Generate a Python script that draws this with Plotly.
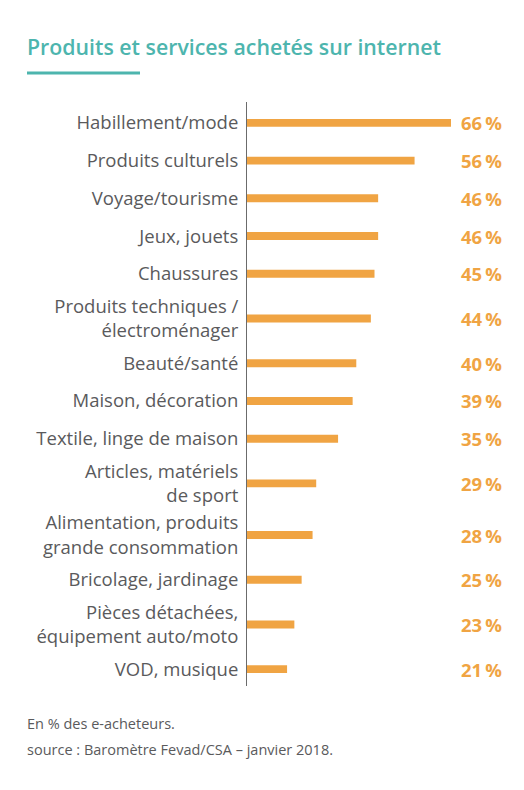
import plotly.graph_objects as go

# data
categories = [
    "Habillement/mode",
    "Produits culturels",
    "Voyage/tourisme",
    "Jeux, jouets",
    "Chaussures",
    "Produits techniques /<br>électroménager",
    "Beauté/santé",
    "Maison, décoration",
    "Textile, linge de maison",
    "Articles, matériels<br>de sport",
    "Alimentation, produits<br>grande consommation",
    "Bricolage, jardinage",
    "Pièces détachées,<br>équipement auto/moto",
    "VOD, musique",
]
values = [66, 56, 46, 46, 45, 44, 40, 39, 35, 29, 28, 25, 23, 21]
value_labels = [f"{v}\u2009%" for v in values]

title = "Produits et services achetés sur internet"
note1 = "En % des e-acheteurs."
note2 = "source : Baromètre Fevad/CSA – janvier 2018."

ORANGE = "#F0A443"
TEAL = "#4DB5AE"
GREY = "#5a5a5c"

W, H = 524, 790
L, R, T, B = 247, 73, 102, 104
pw, ph = W - L - R, H - T - B

# row positions: two-line labels get a taller row
pos = []
y = 0
prev = None
for c in categories:
    n = c.count("<br>") + 1
    if prev is not None:
        y += 38 + 7 * (prev - 1) + 7 * (n - 1)
    pos.append(y)
    prev = n


def px_x(x):
    return (x - L) / pw


def px_y(yy):
    return (H - B - yy) / ph


fig = go.Figure()
fig.add_trace(go.Bar(
    x=values, y=pos, orientation="h", width=8,
    marker=dict(color=ORANGE, line=dict(width=0)),
    hoverinfo="skip",
))

for p, t in zip(pos, value_labels):
    fig.add_annotation(x=px_x(504), xref="paper", y=p, yref="y", text=t,
                       showarrow=False, xanchor="right", yanchor="middle",
                       font=dict(family="Open Sans", size=18.5, color=ORANGE, weight="bold"))

fig.add_annotation(x=px_x(25), xref="paper", y=px_y(46), yref="paper", text=title,
                   showarrow=False, xanchor="left", yanchor="middle",
                   font=dict(family="Open Sans", size=21.3, color=TEAL, weight=600))
fig.add_shape(type="line", xref="paper", yref="paper",
              x0=px_x(27), x1=px_x(140), y0=px_y(73), y1=px_y(73),
              line=dict(color=TEAL, width=3))

fig.add_annotation(x=px_x(25), xref="paper", y=px_y(723), yref="paper", text=note1,
                   showarrow=False, xanchor="left", yanchor="middle",
                   font=dict(family="Open Sans", size=14.5, color=GREY))
fig.add_annotation(x=px_x(25), xref="paper", y=px_y(749), yref="paper", text=note2,
                   showarrow=False, xanchor="left", yanchor="middle",
                   font=dict(family="Open Sans", size=14.5, color=GREY))

fig.update_layout(
    width=W, height=H,
    margin=dict(l=L, r=R, t=T, b=B, autoexpand=False),
    plot_bgcolor="white", paper_bgcolor="white",
    showlegend=False,
    font=dict(family="Open Sans", color=GREY),
)
fig.update_xaxes(range=[10, 66], visible=False, showgrid=False, zeroline=False)
fig.update_yaxes(
    range=[pos[-1] + 17, -21],
    tickvals=pos, ticktext=categories,
    showline=True, linecolor="#6b6b6b", linewidth=1,
    showgrid=False, zeroline=False, ticks="",
    ticklabelstandoff=4,
    tickfont=dict(family="Open Sans", size=18.5, color=GREY),
)

fig.write_html("out.html", config={"displayModeBar": False},
               post_script="document.body.style.margin='0';")
